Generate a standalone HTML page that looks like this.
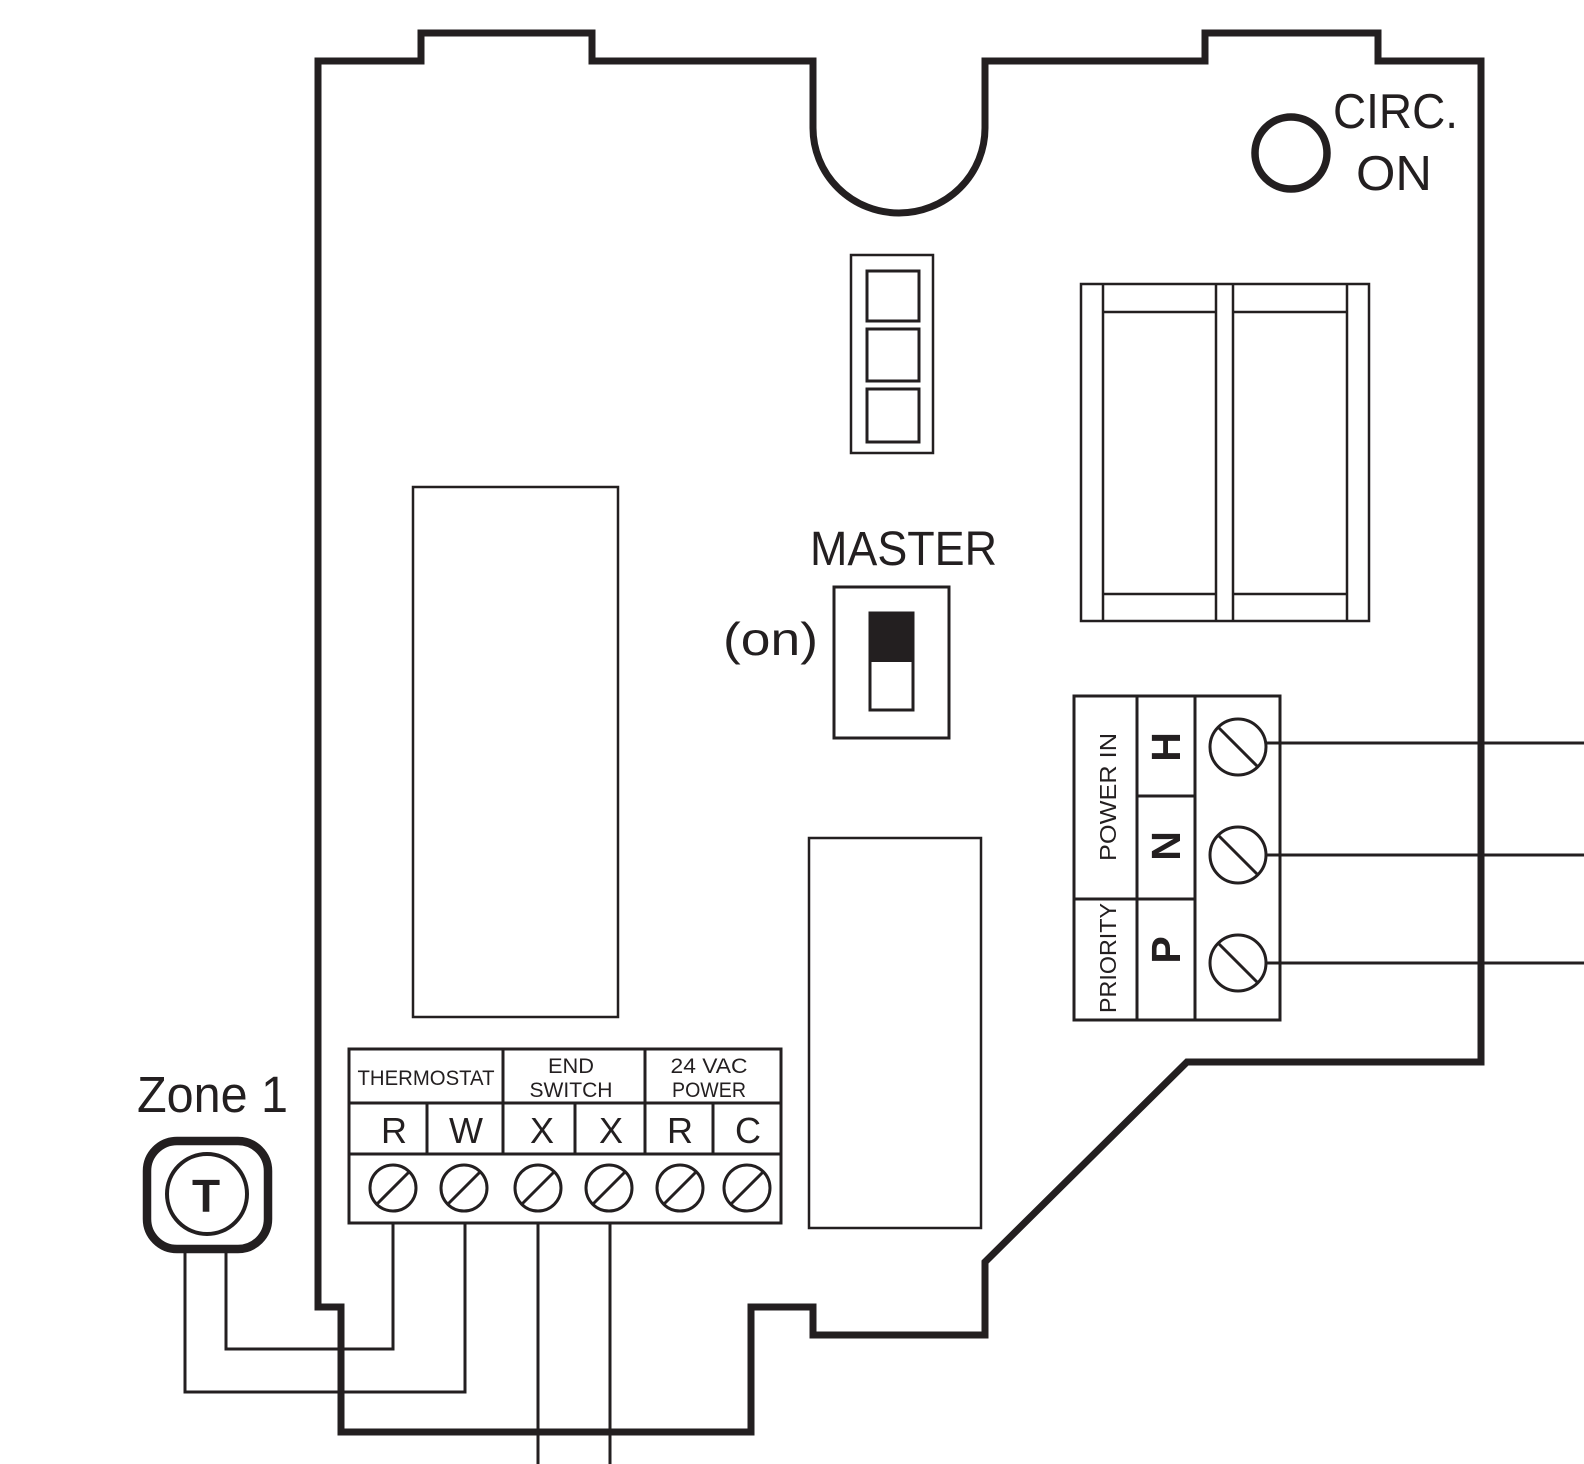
<!DOCTYPE html>
<html>
<head>
<meta charset="utf-8">
<style>
html,body{margin:0;padding:0;background:#fff;}
svg{display:block;}
text{font-family:"Liberation Sans",Arial,sans-serif;fill:#231f20;}
</style>
</head>
<body>
<svg width="1584" height="1464" viewBox="0 0 1584 1464" xmlns="http://www.w3.org/2000/svg">
<rect x="0" y="0" width="1584" height="1464" fill="#fff"/>

<!-- Board outline -->
<path d="M318,1307 L318,61 L421,61 L421,33 L592,33 L592,61 L813,61 L813,128 A86,85 0 0 0 985,128 L985,61 L1205,61 L1205,33 L1378,33 L1378,61 L1481,61 L1481,1062 L1187,1062 L985,1262 L985,1335 L813,1335 L813,1307 L751,1307 L751,1432 L341,1432 L341,1307 Z"
 fill="none" stroke="#231f20" stroke-width="7" stroke-linejoin="miter"/>

<!-- CIRC ON -->
<circle cx="1291" cy="153" r="36" fill="none" stroke="#231f20" stroke-width="7.5"/>
<text x="1333" y="128" font-size="49" textLength="125" lengthAdjust="spacingAndGlyphs">CIRC.</text>
<text x="1356" y="190" font-size="49" textLength="76" lengthAdjust="spacingAndGlyphs">ON</text>

<g fill="none" stroke="#231f20" stroke-width="3">
  <!-- LED block -->
  <rect x="851" y="255" width="82" height="198" stroke-width="2.5"/>
  <rect x="867" y="271" width="52" height="50"/>
  <rect x="867" y="329" width="52" height="52"/>
  <rect x="867" y="389" width="52" height="53"/>

  <!-- Relay -->
  <rect x="1081" y="284" width="288" height="337" stroke-width="2.5"/>
  <line x1="1103" y1="284" x2="1103" y2="621" stroke-width="2.5"/>
  <line x1="1216" y1="284" x2="1216" y2="621" stroke-width="2.5"/>
  <line x1="1233" y1="284" x2="1233" y2="621" stroke-width="2.5"/>
  <line x1="1347" y1="284" x2="1347" y2="621" stroke-width="2.5"/>
  <line x1="1103" y1="312" x2="1216" y2="312" stroke-width="2.5"/>
  <line x1="1233" y1="312" x2="1347" y2="312" stroke-width="2.5"/>
  <line x1="1103" y1="594" x2="1216" y2="594" stroke-width="2.5"/>
  <line x1="1233" y1="594" x2="1347" y2="594" stroke-width="2.5"/>

  <!-- Tall rectangles -->
  <rect x="413" y="487" width="205" height="530" stroke-width="2.5"/>
  <rect x="809" y="838" width="172" height="390" stroke-width="2.5"/>

  <!-- Master switch -->
  <rect x="834" y="587" width="115" height="151"/>
  <rect x="870" y="613" width="43" height="97"/>
</g>
<rect x="870" y="613" width="43" height="49" fill="#231f20"/>
<text x="810" y="565" font-size="48" textLength="187" lengthAdjust="spacingAndGlyphs">MASTER</text>
<text x="723" y="655" font-size="46" textLength="95" lengthAdjust="spacingAndGlyphs">(on)</text>

<!-- Power block -->
<g fill="none" stroke="#231f20" stroke-width="3">
  <rect x="1074" y="696" width="206" height="324"/>
  <line x1="1137" y1="696" x2="1137" y2="1020"/>
  <line x1="1195" y1="696" x2="1195" y2="1020"/>
  <line x1="1074" y1="899" x2="1137" y2="899"/>
  <line x1="1137" y1="796" x2="1195" y2="796"/>
  <line x1="1137" y1="899" x2="1195" y2="899"/>
  <circle cx="1238" cy="747" r="28"/>
  <circle cx="1238" cy="855" r="28"/>
  <circle cx="1238" cy="963" r="28"/>
  <line x1="1218" y1="727" x2="1258" y2="767"/>
  <line x1="1218" y1="835" x2="1258" y2="875"/>
  <line x1="1218" y1="943" x2="1258" y2="983"/>
  <!-- wires right -->
  <line x1="1266" y1="743" x2="1584" y2="743"/>
  <line x1="1266" y1="855" x2="1584" y2="855"/>
  <line x1="1266" y1="963" x2="1584" y2="963"/>
</g>
<text transform="translate(1116,797) rotate(-90)" text-anchor="middle" font-size="23" textLength="128" lengthAdjust="spacingAndGlyphs">POWER IN</text>
<text transform="translate(1116,958) rotate(-90)" text-anchor="middle" font-size="23" textLength="110" lengthAdjust="spacingAndGlyphs">PRIORITY</text>
<text transform="translate(1180,747) rotate(-90)" text-anchor="middle" font-size="41" font-weight="bold">H</text>
<text transform="translate(1180,846) rotate(-90)" text-anchor="middle" font-size="41" font-weight="bold">N</text>
<text transform="translate(1180,950) rotate(-90)" text-anchor="middle" font-size="41" font-weight="bold">P</text>

<!-- Terminal block -->
<g fill="none" stroke="#231f20" stroke-width="3">
  <rect x="349" y="1049" width="432" height="174"/>
  <line x1="349" y1="1103" x2="781" y2="1103"/>
  <line x1="349" y1="1154" x2="781" y2="1154"/>
  <line x1="503" y1="1049" x2="503" y2="1154"/>
  <line x1="645" y1="1049" x2="645" y2="1154"/>
  <line x1="427" y1="1103" x2="427" y2="1154"/>
  <line x1="575" y1="1103" x2="575" y2="1154"/>
  <line x1="713" y1="1103" x2="713" y2="1154"/>
  <circle cx="393" cy="1188" r="23"/>
  <circle cx="464" cy="1188" r="23"/>
  <circle cx="538" cy="1188" r="23"/>
  <circle cx="609" cy="1188" r="23"/>
  <circle cx="680" cy="1188" r="23"/>
  <circle cx="747" cy="1188" r="23"/>
  <line x1="377" y1="1204" x2="409" y2="1172"/>
  <line x1="448" y1="1204" x2="480" y2="1172"/>
  <line x1="522" y1="1204" x2="554" y2="1172"/>
  <line x1="593" y1="1204" x2="625" y2="1172"/>
  <line x1="664" y1="1204" x2="696" y2="1172"/>
  <line x1="731" y1="1204" x2="763" y2="1172"/>

  <!-- Wires -->
  <polyline points="393,1223 393,1349 226,1349 226,1250"/>
  <polyline points="465,1223 465,1392 185,1392 185,1250"/>
  <line x1="538" y1="1223" x2="538" y2="1464"/>
  <line x1="610" y1="1223" x2="610" y2="1464"/>
</g>
<text x="426" y="1085" text-anchor="middle" font-size="21" textLength="137" lengthAdjust="spacingAndGlyphs">THERMOSTAT</text>
<text x="571" y="1073" text-anchor="middle" font-size="21" textLength="46" lengthAdjust="spacingAndGlyphs">END</text>
<text x="571" y="1097" text-anchor="middle" font-size="21" textLength="83" lengthAdjust="spacingAndGlyphs">SWITCH</text>
<text x="709" y="1073" text-anchor="middle" font-size="21" textLength="77" lengthAdjust="spacingAndGlyphs">24 VAC</text>
<text x="709" y="1097" text-anchor="middle" font-size="21" textLength="74" lengthAdjust="spacingAndGlyphs">POWER</text>
<text x="394" y="1143" text-anchor="middle" font-size="36">R</text>
<text x="466" y="1143" text-anchor="middle" font-size="36">W</text>
<text x="542" y="1143" text-anchor="middle" font-size="36">X</text>
<text x="611" y="1143" text-anchor="middle" font-size="36">X</text>
<text x="680" y="1143" text-anchor="middle" font-size="36">R</text>
<text x="748" y="1143" text-anchor="middle" font-size="36">C</text>

<!-- Zone 1 thermostat -->
<text x="137" y="1112" font-size="51" textLength="151" lengthAdjust="spacingAndGlyphs">Zone 1</text>
<rect x="147" y="1141" width="121" height="108" rx="30" ry="30" fill="#fff" stroke="#231f20" stroke-width="8.5"/>
<circle cx="207" cy="1194" r="40" fill="none" stroke="#231f20" stroke-width="4"/>
<text x="206" y="1212" text-anchor="middle" font-size="46" font-weight="bold">T</text>
</svg>
</body>
</html>
